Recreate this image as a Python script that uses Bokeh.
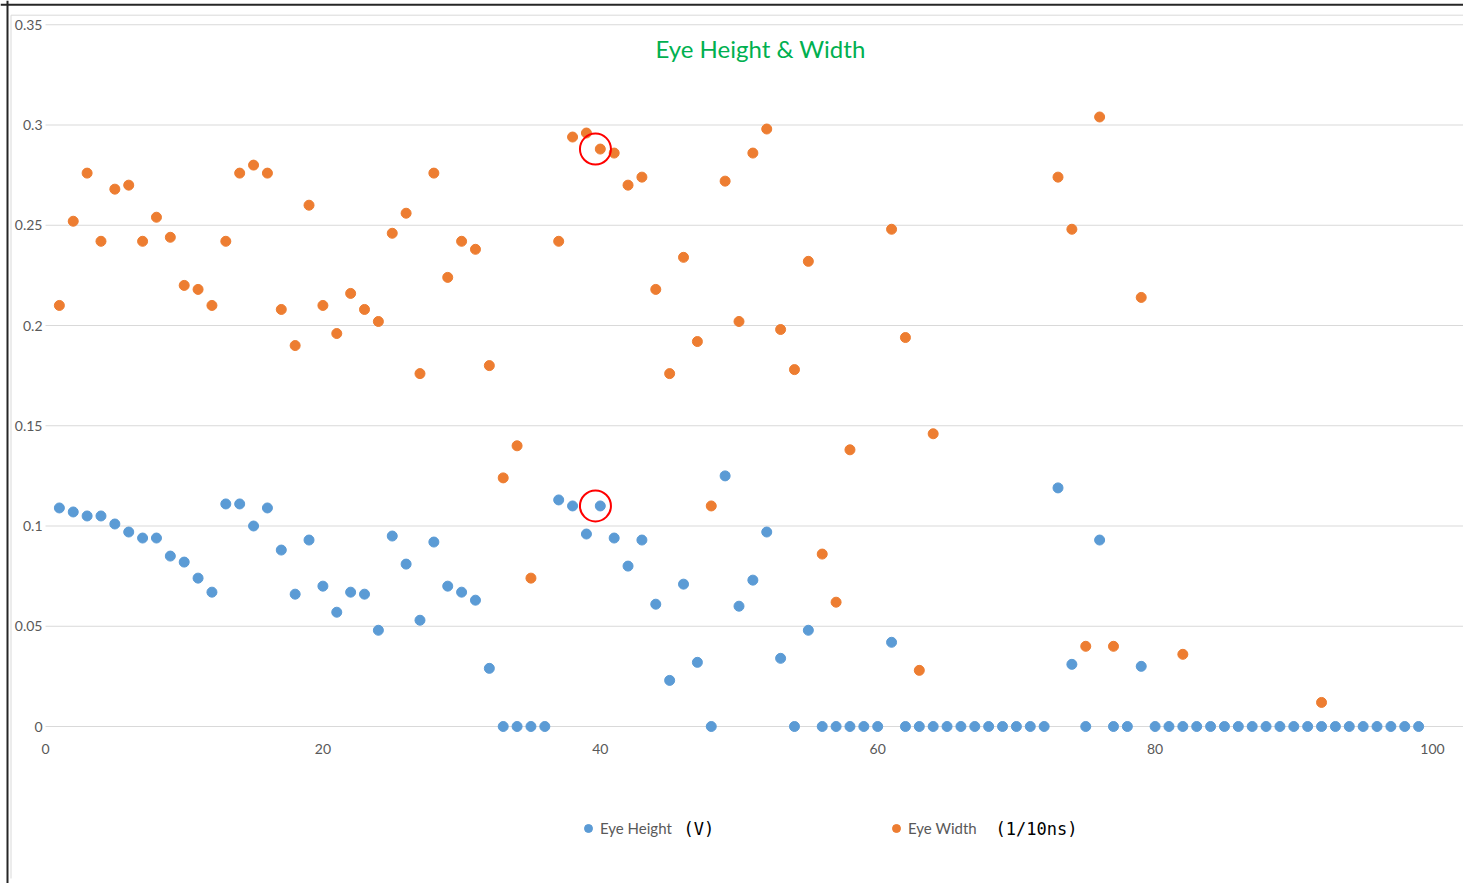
from bokeh.plotting import figure
from bokeh.models import FixedTicker, Label, Legend, LegendItem, Range1d, Span
from bokeh.embed import file_html
from bokeh.resources import INLINE

NAN = float("nan")

# ---- data -------------------------------------------------------------
sample = list(range(1, 100))

eye_height = [
    0.109, 0.107, 0.105, 0.105, 0.101, 0.097, 0.094, 0.094, 0.085, 0.082,   # 1-10
    0.074, 0.067, 0.111, 0.111, 0.100, 0.109, 0.088, 0.066, 0.093, 0.070,   # 11-20
    0.057, 0.067, 0.066, 0.048, 0.095, 0.081, 0.053, 0.092, 0.070, 0.067,   # 21-30
    0.063, 0.029, 0.0, 0.0, 0.0, 0.0, 0.113, 0.110, 0.096, 0.110,           # 31-40
    0.094, 0.080, 0.093, 0.061, 0.023, 0.071, 0.032, 0.0, 0.125, 0.060,     # 41-50
    0.073, 0.097, 0.034, 0.0, 0.048, 0.0, 0.0, 0.0, 0.0, 0.0,               # 51-60
    0.042, 0.0, 0.0, 0.0, 0.0, 0.0, 0.0, 0.0, 0.0, 0.0,                     # 61-70
    0.0, 0.0, 0.119, 0.031, 0.0, 0.093, 0.0, 0.0, 0.030, 0.0,               # 71-80
    0.0, 0.0, 0.0, 0.0, 0.0, 0.0, 0.0, 0.0, 0.0, 0.0,                       # 81-90
    0.0, 0.0, 0.0, 0.0, 0.0, 0.0, 0.0, 0.0, 0.0,                            # 91-99
]

eye_width = [
    0.210, 0.252, 0.276, 0.242, 0.268, 0.270, 0.242, 0.254, 0.244, 0.220,   # 1-10
    0.218, 0.210, 0.242, 0.276, 0.280, 0.276, 0.208, 0.190, 0.260, 0.210,   # 11-20
    0.196, 0.216, 0.208, 0.202, 0.246, 0.256, 0.176, 0.276, 0.224, 0.242,   # 21-30
    0.238, 0.180, 0.124, 0.140, 0.074, NAN, 0.242, 0.294, 0.296, 0.288,     # 31-40
    0.286, 0.270, 0.274, 0.218, 0.176, 0.234, 0.192, 0.110, 0.272, 0.202,   # 41-50
    0.286, 0.298, 0.198, 0.178, 0.232, 0.086, 0.062, 0.138, NAN, NAN,       # 51-60
    0.248, 0.194, 0.028, 0.146, NAN, NAN, NAN, NAN, NAN, NAN,               # 61-70
    NAN, NAN, 0.274, 0.248, 0.040, 0.304, 0.040, NAN, 0.214, NAN,           # 71-80
    NAN, 0.036, NAN, NAN, NAN, NAN, NAN, NAN, NAN, NAN,                     # 81-90
    NAN, 0.012, NAN, NAN, NAN, NAN, NAN, NAN, NAN,                          # 91-99
]

x_ticks = [0, 20, 40, 60, 80, 100]
y_ticks = [0, 0.05, 0.1, 0.15, 0.2, 0.25, 0.3, 0.35]
y_tick_labels = {0: "0", 0.05: "0.05", 0.1: "0.1", 0.15: "0.15", 0.2: "0.2",
                 0.25: "0.25", 0.3: "0.3", 0.35: "0.35"}
highlight_sample = [40]

title_text = "Eye Height & Width"
height_label = "Eye Height"
width_label = "Eye Width"
height_unit = "(V)"
width_unit = "(1/10ns)"

BLUE = "#5B9BD5"
ORANGE = "#ED7D31"
GRAY = "#595959"
GRID = "#d9d9d9"
FONT = "Lato"

# ---- layout helpers (canvas pixels -> data units, for decoration only) --
W, H = 1463, 883
X0_PX, X_PER_UNIT = 45.0, 13.87
Y0_PX, Y_PER_UNIT = 726.0, 2005.0


def px2x(px):
    return (px - X0_PX) / X_PER_UNIT


def py2y(py):
    return (Y0_PX - py) / Y_PER_UNIT


X_END = px2x(1462.5)

# ---- figure -----------------------------------------------------------
p = figure(
    frame_width=W, frame_height=H,
    x_range=Range1d(px2x(0), px2x(W)), y_range=Range1d(py2y(H), py2y(0)),
    output_backend="svg", toolbar_location=None,
    min_border_left=0, min_border_top=0, min_border_right=0, min_border_bottom=0,
)
p.outline_line_color = None
p.background_fill_color = "white"
p.border_fill_color = "white"

# axes drawn at the data origin
p.xaxis.ticker = FixedTicker(ticks=x_ticks)
p.xaxis.fixed_location = 0
p.xaxis.axis_line_color = None
p.xaxis.major_tick_line_color = None
p.xaxis.major_tick_out = 0
p.xaxis.minor_tick_line_color = None
p.xaxis.major_label_standoff = 17
p.xaxis.major_label_text_font = FONT
p.xaxis.major_label_text_font_size = "14px"
p.xaxis.major_label_text_color = GRAY

p.yaxis.ticker = FixedTicker(ticks=y_ticks)
p.yaxis.fixed_location = 0
p.yaxis.major_label_overrides = y_tick_labels
p.yaxis.axis_line_color = None
p.yaxis.major_tick_line_color = None
p.yaxis.major_tick_out = 0
p.yaxis.minor_tick_line_color = None
p.yaxis.major_label_standoff = 3
p.yaxis.major_label_text_font = FONT
p.yaxis.major_label_text_font_size = "14px"
p.yaxis.major_label_text_color = GRAY

# horizontal grid lines, limited to the plot area
p.xgrid.visible = False
p.ygrid.visible = False
p.segment(x0=[0] * len(y_ticks), x1=[X_END] * len(y_ticks), y0=y_ticks, y1=y_ticks,
          line_color=GRID, line_width=1)

# chart-area border (light) and screenshot border (dark)
p.segment(x0=[px2x(10.5), px2x(10.5)], x1=[X_END, px2x(10.5)],
          y0=[py2y(14.7), py2y(14.7)], y1=[py2y(14.7), py2y(878)],
          line_color=GRID, line_width=1)
p.add_layout(Span(location=px2x(7), dimension="height", line_color="#262626", line_width=2))
p.add_layout(Span(location=py2y(4.3), dimension="width", line_color="#262626", line_width=2))

# data
r_h = p.scatter(sample, eye_height, size=10, marker="circle",
                fill_color=BLUE, line_color=BLUE)
r_w = p.scatter(sample, eye_width, size=10, marker="circle",
                fill_color=ORANGE, line_color=ORANGE)

# highlight circles
hx = [s - 0.35 for s in highlight_sample]
p.scatter(hx, [eye_width[s - 1] for s in highlight_sample], size=31, marker="circle",
          fill_color=None, line_color="#FF0000", line_width=2)
p.scatter(hx, [eye_height[s - 1] for s in highlight_sample], size=31, marker="circle",
          fill_color=None, line_color="#FF0000", line_width=2)

# title
p.add_layout(Label(x=px2x(760), y=py2y(48), text=title_text, text_align="center",
                   text_baseline="middle", text_color="#00B050",
                   text_font=FONT, text_font_size="24px"))

# legend (below the plot area)
common = dict(orientation="horizontal", background_fill_alpha=0,
              border_line_color=None, padding=0, margin=0,
              glyph_width=20, glyph_height=20, label_standoff=2,
              label_text_font=FONT, label_text_font_size="15px",
              label_text_color=GRAY, label_text_baseline="middle")
lg_h = Legend(items=[LegendItem(label=height_label, renderers=[r_h])],
              location=(578, H - 838), **common)
lg_w = Legend(items=[LegendItem(label=width_label, renderers=[r_w])],
              location=(886, H - 838), **common)
p.add_layout(lg_h)
p.add_layout(lg_w)

p.add_layout(Label(x=px2x(683), y=py2y(828), text=height_unit, text_baseline="middle",
                   text_font="DejaVu Sans Mono", text_font_size="17px",
                   text_color="black"))
p.add_layout(Label(x=px2x(995), y=py2y(828), text=width_unit, text_baseline="middle",
                   text_font="DejaVu Sans Mono", text_font_size="17px",
                   text_color="black"))

open("out.html", "w").write(file_html(p, INLINE))
